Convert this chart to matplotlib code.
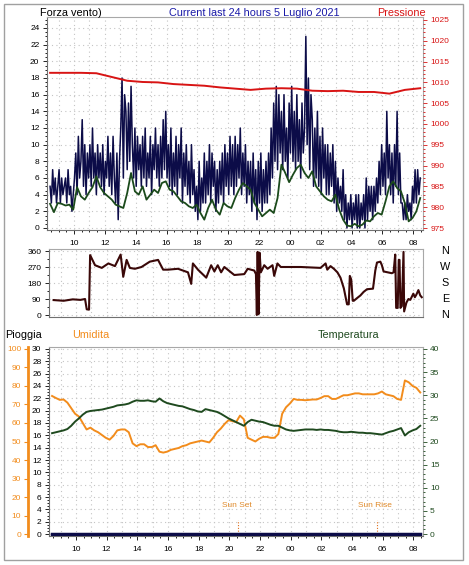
import numpy as np
import matplotlib
matplotlib.use("Agg")
import matplotlib.pyplot as plt
from matplotlib.patches import Rectangle
from matplotlib.ticker import MultipleLocator, FuncFormatter
from matplotlib.transforms import blended_transform_factory

plt.rcParams['font.family'] = ['Liberation Sans', 'DejaVu Sans']

# ---- data (hours since midnight of day 1, >24 = next day) ----
t_start = 8.45

# wind gust, one value every 5 minutes, one row per hour
gust = [
    5, 3, 7, 4, 6, 3, 5, 7, 3, 6, 4, 5,
    6, 3, 7, 4, 5, 2, 4, 6, 9, 4, 11, 6,
    8, 13, 5, 10, 4, 9, 6, 10, 5, 12, 6, 9,
    4, 10, 6, 9, 5, 10, 4, 8, 6, 11, 5, 9,
    4, 11, 6, 3, 9, 1, 8, 12, 18, 6, 16, 14,
    7, 15, 8, 17, 10, 6, 12, 5, 11, 7, 10, 5,
    11, 6, 12, 5, 9, 6, 11, 4, 10, 7, 12, 6,
    10, 5, 11, 6, 13, 7, 14, 6, 10, 5, 12, 4,
    9, 5, 11, 4, 10, 6, 12, 3, 9, 5, 10, 4,
    8, 3, 10, 4, 7, 2, 5, 1, 8, 2, 6, 3,
    9, 3, 8, 4, 10, 3, 9, 5, 8, 2, 7, 3,
    8, 4, 9, 3, 10, 5, 9, 4, 11, 5, 10, 4,
    11, 5, 10, 6, 12, 4, 9, 5, 10, 3, 8, 4,
    8, 2, 9, 3, 7, 1, 8, 3, 9, 2, 7, 3,
    8, 3, 9, 4, 12, 6, 15, 8, 17, 7, 16, 9,
    14, 7, 16, 8, 12, 6, 15, 9, 17, 8, 14, 7,
    16, 8, 13, 6, 15, 9, 12, 23, 10, 18, 7, 16,
    13, 5, 12, 6, 14, 5, 11, 4, 12, 6, 10, 4,
    10, 4, 9, 5, 10, 3, 8, 2, 6, 3, 5, 2,
    7, 1, 4, 0, 3, 1, 4, 0, 3, 1, 4, 0,
    4, 0, 3, 1, 4, 0, 6, 1, 5, 2, 5, 1,
    5, 2, 6, 3, 8, 4, 10, 5, 9, 4, 14, 6,
    10, 4, 9, 3, 10, 5, 14, 4, 9, 3, 3, 1,
    3, 1, 4, 2, 3, 1, 5, 3, 7, 3, 7, 4,
    6,
]

# average wind, every 15 minutes
wind_avg = [
    2.9, 1.9, 3.0, 2.9, 2.7, 2.8, 2.2, 4.9, 3.8, 3.4, 4.2, 4.9,
    6.2, 4.9, 4.2, 3.8, 3.4, 2.8, 2.6, 2.4, 4.2, 6.6, 4.4, 4.0,
    5.0, 3.4, 4.0, 4.6, 4.2, 5.4, 5.6, 4.6, 4.4, 3.8, 3.2, 3.0,
    2.6, 2.4, 2.8, 1.8, 1.0, 2.4, 3.4, 2.2, 1.6, 3.0, 2.6, 2.4,
    3.6, 4.6, 5.4, 5.0, 4.6, 3.0, 2.2, 1.4, 1.8, 2.2, 1.8, 3.6,
    7.6, 6.6, 5.5, 6.4, 7.2, 7.6, 6.6, 6.0, 6.8, 5.0, 4.4, 3.8,
    3.4, 3.2, 4.0, 2.2, 1.0, 0.3, 0.2, 0.5, 0.2, 0.4, 0.9, 0.8,
    1.4, 1.8, 1.6, 3.2, 5.0, 5.6, 4.8, 4.4, 3.0, 0.8, 1.2, 2.0,
    3.6,
]

# pressure, hourly (hPa)
pressure = [
    1012.3, 1012.3, 1012.3, 1012.2, 1011.3, 1010.4, 1010.1, 1010.0,
    1009.6, 1009.4, 1009.2, 1008.8, 1008.5, 1008.2, 1008.5, 1008.6,
    1008.5, 1008.0, 1007.9, 1008.0, 1007.7, 1007.7, 1007.3, 1008.2,
    1008.6,
]

# wind direction (irregular samples)
dir_time = [8.55, 9.2, 9.8, 10.3, 10.6, 10.71, 10.86, 10.93, 11.25, 11.69,
            12.12, 12.55, 12.92, 13.09, 13.31, 13.52, 13.85, 14.28, 14.82,
            15.36, 15.69, 16.01, 16.66, 17.31, 17.52, 17.63, 17.96, 18.5,
            18.82, 19.03, 19.25, 19.47, 19.68, 20.33, 20.98, 21.2, 21.63,
            21.74, 21.8, 21.85, 21.91, 21.98, 22.06, 22.28, 22.5, 22.82,
            22.93, 23.14, 23.36, 24.66, 25.95, 26.28, 26.39, 26.6, 26.82,
            27.05, 27.25, 27.47, 27.68, 27.79, 27.86, 27.95, 28.05, 28.12,
            28.33, 28.55, 28.76, 28.98, 29.37, 29.52, 29.63, 29.85, 29.95,
            30.06, 30.6, 30.71, 30.82, 30.88, 30.98, 31.05, 31.1, 31.16,
            31.25, 31.36, 31.4, 31.55, 31.68, 31.8, 32.0, 32.1, 32.2, 32.33,
            32.45, 32.55]
dir_deg = [84, 80, 88, 85, 90, 32, 30, 337, 280, 265,
           290, 275, 340, 215, 310, 265, 260, 270, 300,
           310, 255, 255, 260, 240, 175, 290, 255, 210,
           280, 245, 280, 240, 270, 225, 230, 260, 250,
           230, 0, 355, 5, 350, 240, 280, 260, 280,
           220, 290, 270, 270, 265, 290, 255, 275, 260,
           240, 210, 150, 60, 60, 220, 200, 80, 80,
           95, 110, 130, 145, 148, 250, 295, 300, 280,
           245, 235, 240, 340, 40, 40, 310, 310, 40,
           50, 355, 20, 70, 90, 85, 120, 100, 115, 140,
           110, 100]

# rain (mm), hourly
rain = [0.0] * 25

# humidity (%) and temperature (C), every 15 minutes
humidity = [
    74.6, 73.5, 72.5, 72.7, 71.0, 68.0, 65.0, 63.5, 60.0, 56.5, 57.5, 56.0,
    55.0, 53.5, 52.0, 51.0, 53.0, 56.0, 56.5, 56.5, 55.0, 49.0, 47.5, 48.5,
    48.5, 47.0, 47.0, 48.0, 44.5, 44.0, 44.5, 45.5, 46.0, 46.5, 47.5, 48.0,
    49.0, 49.5, 50.0, 50.5, 50.0, 49.5, 52.0, 55.0, 57.0, 59.5, 61.5, 61.0,
    60.5, 64.0, 62.0, 52.0, 51.0, 50.0, 51.5, 52.5, 52.5, 52.0, 52.0, 54.0,
    65.0, 68.5, 70.5, 73.0, 72.5, 72.5, 72.3, 72.5, 72.7, 72.7, 73.5, 74.5,
    74.5, 73.0, 73.0, 74.0, 75.0, 75.0, 75.5, 76.0, 76.0, 75.5, 75.5, 75.5,
    75.5, 76.0, 77.0, 75.5, 75.0, 74.5, 73.0, 72.5, 83.0, 82.0, 80.0, 79.0,
    76.5,
]
temperature = [
    21.8, 22.0, 22.2, 22.4, 22.7, 23.4, 24.3, 25.0, 25.8, 26.4, 26.6, 26.7,
    26.8, 26.9, 27.1, 27.3, 27.5, 27.8, 27.9, 28.0, 28.2, 28.6, 28.9, 28.8,
    28.8, 28.9, 28.7, 28.6, 29.3, 28.7, 28.3, 28.1, 27.9, 27.7, 27.6, 27.3,
    27.0, 26.8, 26.5, 26.4, 27.0, 26.8, 26.6, 26.4, 26.0, 25.5, 25.0, 24.6,
    24.2, 23.8, 23.4, 24.2, 24.7, 24.5, 24.3, 24.2, 23.9, 23.6, 23.4, 23.4,
    23.0, 22.6, 22.4, 22.3, 22.4, 22.5, 22.6, 22.6, 22.6, 22.5, 22.6, 22.5,
    22.5, 22.4, 22.3, 22.1, 22.0, 22.0, 22.1, 22.0, 21.9, 21.9, 21.8, 21.8,
    21.7, 21.6, 21.5, 21.8, 22.1, 22.3, 22.6, 22.9, 21.3, 22.0, 22.4, 22.7,
    23.4,
]

sunset = 20.6
sunrise = 29.6

t_gust = t_start + np.arange(len(gust)) / 12.0
t_avg = t_start + np.arange(len(wind_avg)) / 4.0
t_press = t_start + np.arange(len(pressure))
t_rain = t_start + np.arange(len(rain))
t_15 = t_start + np.arange(len(humidity)) / 4.0

# ---- colors ----
NAVY = '#0c0c48'
GREEN = '#1b4a1b'
RED = '#d81414'
MAROON = '#3a0808'
ORANGE = '#f28c1c'
TGREEN = '#1f4a1f'
GRID = '#c4c4c4'
FRAME = '#a8a8a8'

W, H = 469, 565
fig = plt.figure(figsize=(W / 100, H / 100), dpi=100)


def box(l, t, r, b):
    return [l / W, 1 - b / H, (r - l) / W, (b - t) / H]


hour_fmt = FuncFormatter(lambda v, p: f"{int(round(v)) % 24:02d}")
XLIM = (8.25, 32.63)
FS = 6
TFS = 7.8


def style_axes(ax):
    for s in ['top', 'right']:
        ax.spines[s].set_color(FRAME)
    for s in ['left', 'bottom']:
        ax.spines[s].set_color('#707070')
    ax.set_xlim(*XLIM)
    ax.xaxis.set_major_locator(MultipleLocator(2))
    ax.xaxis.set_minor_locator(MultipleLocator(0.5))
    ax.xaxis.set_major_formatter(hour_fmt)
    ax.tick_params(axis='both', which='major', direction='out', length=3,
                   width=0.6, labelsize=FS, pad=2.5)
    ax.tick_params(axis='both', which='minor', direction='out', length=1.5,
                   width=0.6)
    ax.tick_params(axis='x', which='major', pad=4)
    ax.set_axisbelow(True)
    for h in np.arange(9, 33, 1):
        ax.axvline(h, color=GRID, lw=0.8, ls=(0, (1, 3)), zorder=0)


# ---- top panel: wind + pressure ----
ax1 = fig.add_axes(box(47, 17, 423, 230))
style_axes(ax1)
ax1.set_ylim(-0.24, 25.32)
ax1.yaxis.set_major_locator(MultipleLocator(2))
ax1.yaxis.set_minor_locator(MultipleLocator(0.5))
ax1.grid(axis='y', color=GRID, lw=0.8, ls=(0, (1, 3)))
ax1.plot(t_gust, gust, color=NAVY, lw=1.1)
ax1.plot(t_avg, wind_avg, color=GREEN, lw=1.3)

ax1p = ax1.twinx()
ax1p.set_ylim(974.52, 1025.72)
ax1p.yaxis.set_major_locator(MultipleLocator(5))
ax1p.yaxis.set_minor_locator(MultipleLocator(1))
ax1p.tick_params(axis='y', which='major', direction='out', length=3, width=0.6,
                 labelsize=FS, pad=2.5, colors=RED)
ax1p.tick_params(axis='y', which='minor', direction='out', length=1.5,
                 width=0.6, colors=RED)
for s in ['top', 'right', 'left', 'bottom']:
    ax1p.spines[s].set_visible(False)
ax1p.plot(t_press, pressure, color=RED, lw=1.4)

fig.text(40 / W, 1 - 13 / H, "Forza vento)", fontsize=TFS, va='center')
fig.text(254 / W, 1 - 13 / H, "Current last 24 hours 5 Luglio 2021",
         fontsize=TFS, va='center', ha='center', color='#1a1aa8')
fig.text(377 / W, 1 - 13 / H, "Pressione", fontsize=TFS, va='center',
         color=RED)

# ---- middle panel: wind direction ----
ax2 = fig.add_axes(box(49, 249, 423, 317))
style_axes(ax2)
ax2.tick_params(axis='x', which='both', length=0, labelbottom=False)
ax2.set_ylim(-11.25, 371.25)
ax2.set_yticks([0, 90, 180, 270, 360])
ax2.yaxis.set_minor_locator(MultipleLocator(45))
ax2.grid(axis='y', color=GRID, lw=0.8, ls=(0, (1, 3)))
ax2.plot(dir_time, dir_deg, color=MAROON, lw=1.5)
tr = blended_transform_factory(ax2.transAxes, ax2.transData)
for deg, lab in zip([360, 270, 180, 90, 0], ["N", "W", "S", "E", "N"]):
    ax2.text(1.06, deg, lab, transform=tr, fontsize=TFS, ha='center',
             va='center')

# ---- bottom panel: rain, humidity, temperature ----
ax3 = fig.add_axes(box(49, 347, 423, 536))
style_axes(ax3)
ax3.set_ylim(-0.32, 30.32)
ax3.yaxis.set_major_locator(MultipleLocator(2))
ax3.yaxis.set_minor_locator(MultipleLocator(0.5))
ax3.grid(axis='y', color=GRID, lw=0.8, ls=(0, (1, 3)))
ax3.plot(t_rain, rain, color=NAVY, lw=2.5, zorder=5)

ax3h = ax3.twinx()
ax3h.set_ylim(-0.32 * 10 / 3, 30.32 * 10 / 3)
ax3h.yaxis.set_ticks_position('left')
ax3h.spines['left'].set_visible(True)
ax3h.spines['left'].set_position(('outward', 15))
ax3h.spines['left'].set_color(ORANGE)
ax3h.spines['left'].set_linewidth(2)
for s in ['top', 'right', 'bottom']:
    ax3h.spines[s].set_visible(False)
ax3h.yaxis.set_major_locator(MultipleLocator(10))
ax3h.tick_params(axis='y', which='major', direction='out', length=3,
                 width=0.8, labelsize=FS, pad=2, colors=ORANGE)
ax3h.plot(t_15, humidity, color=ORANGE, lw=1.4)

ax3t = ax3.twinx()
ax3t.set_ylim(-0.32 * 4 / 3, 30.32 * 4 / 3)
for s in ['top', 'right', 'left', 'bottom']:
    ax3t.spines[s].set_visible(False)
ax3t.yaxis.set_major_locator(MultipleLocator(5))
ax3t.yaxis.set_minor_locator(MultipleLocator(1))
ax3t.tick_params(axis='y', which='major', direction='out', length=3,
                 width=0.6, labelsize=FS, pad=2, colors=TGREEN)
ax3t.tick_params(axis='y', which='minor', direction='out', length=1.5,
                 width=0.6, colors=TGREEN)
ax3t.plot(t_15, temperature, color=TGREEN, lw=1.4)

for t_sun, lab in [(sunset, "Sun Set"), (sunrise, "Sun Rise")]:
    ax3.plot([t_sun, t_sun], [0, 2.3], color='#e0701c', lw=0.8,
             ls=(0, (1, 1.5)), zorder=4)
    ax3.text(t_sun - 0.1, 4.7, lab, color='#e08a2a', fontsize=FS,
             ha='center', va='center')

fig.text(5 / W, 1 - 335 / H, "Pioggia", fontsize=TFS, va='center')
fig.text(72 / W, 1 - 335 / H, "Umidita", fontsize=TFS, va='center',
         color=ORANGE)
fig.text(318 / W, 1 - 335 / H, "Temperatura", fontsize=TFS, va='center',
         color=TGREEN)

fig.patches.append(Rectangle((4 / W, 1 - 560 / H), 459 / W, 556 / H,
                             transform=fig.transFigure, fill=False,
                             edgecolor='#a0a0a0', lw=1))

fig.savefig("out.png", dpi=100)
